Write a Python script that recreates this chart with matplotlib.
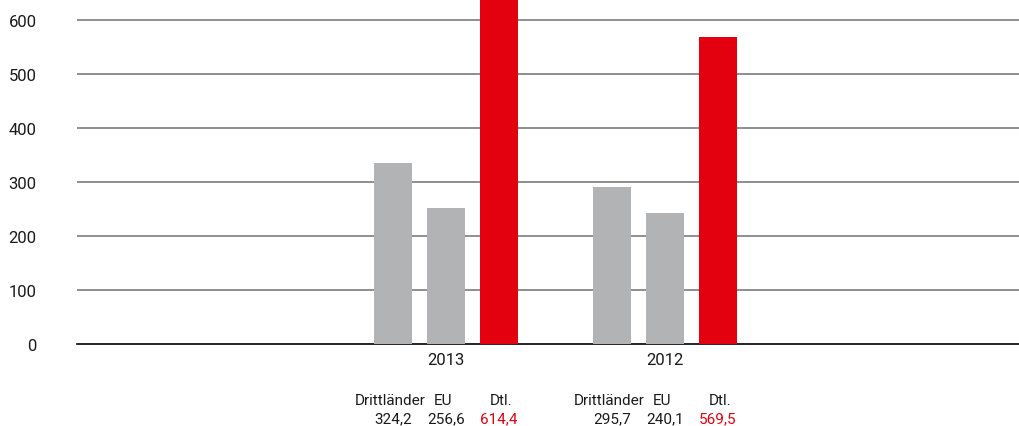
import matplotlib
matplotlib.use("Agg")
import matplotlib.pyplot as plt

# Data
years = ["2013", "2012"]
categories = ["Drittländer", "EU", "Dtl."]
bar_heights = {  # bar heights as drawn in the chart
    "Drittländer": [335, 291],
    "EU": [252, 243],
    "Dtl.": [637, 568],
}
value_labels = {
    "Drittländer": ["324,2", "295,7"],
    "EU": ["256,6", "240,1"],
    "Dtl.": ["614,4", "569,5"],
}
bar_colors = {"Drittländer": "#b2b3b5", "EU": "#b2b3b5", "Dtl.": "#e3000f"}
label_colors = {"Drittländer": "#1a1a1a", "EU": "#1a1a1a", "Dtl.": "#e3000f"}
yticks = [0, 100, 200, 300, 400, 500, 600]

plt.rcParams["font.family"] = ["Roboto", "DejaVu Sans"]

W, H = 1019, 427
fig = plt.figure(figsize=(W / 100, H / 100), dpi=100)
ax = fig.add_axes([77 / W, 82 / H, 1 - 77 / W, 1 - 82 / H])

offsets = [-0.242, 0.0, 0.242]
label_shift = [-0.015, -0.015, 0.01]
bw = 0.1735
for c, off in zip(categories, offsets):
    xs = [i + off for i in range(len(years))]
    ax.bar(xs, bar_heights[c], width=bw, color=bar_colors[c], zorder=3)

ax.set_xlim(-1.685, 2.616)
ax.set_ylim(0, 639)
ax.set_yticks(yticks)
ax.set_yticklabels([str(v) for v in yticks], fontsize=12, color="#1a1a1a")
ax.tick_params(axis="y", length=0, pad=29)
ax.set_xticks([])
for v in yticks[1:]:
    ax.axhline(v, color="#707070", lw=1.1, zorder=1)
for s in ["top", "right", "left"]:
    ax.spines[s].set_visible(False)
ax.spines["bottom"].set_color("black")
ax.spines["bottom"].set_linewidth(1.2)

trans = ax.get_xaxis_transform()
for i, y in enumerate(years):
    ax.text(i, -0.046, y, transform=trans, ha="center", va="center",
            fontsize=12, color="#1a1a1a")
    for c, off, sh in zip(categories, offsets, label_shift):
        ax.text(i + off + sh, -0.162, c, transform=trans, ha="center", va="center",
                fontsize=11, color="#1a1a1a")
        ax.text(i + off, -0.215, value_labels[c][i], transform=trans,
                ha="center", va="center", fontsize=11, color=label_colors[c])

fig.savefig("out.png", dpi=100)
